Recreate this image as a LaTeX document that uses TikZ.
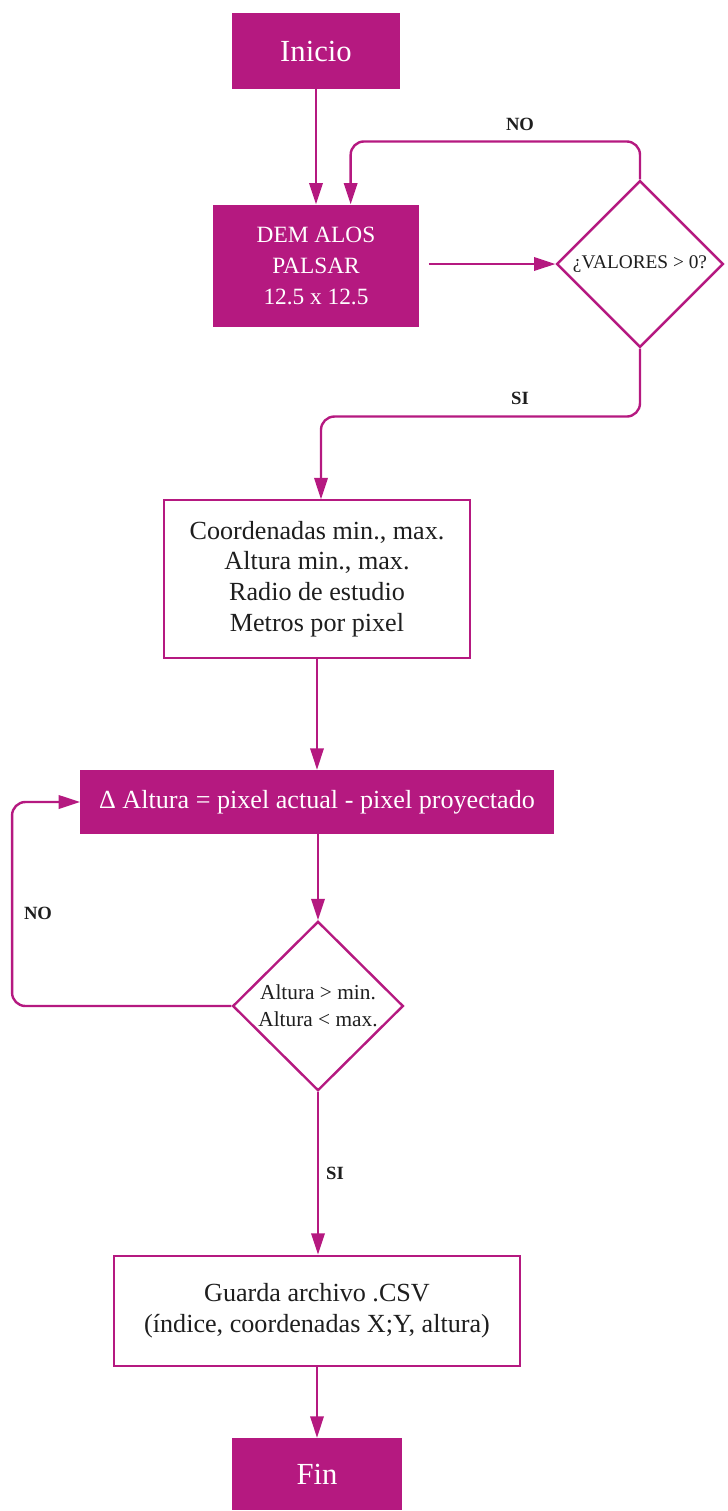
\documentclass[tikz,border=0pt]{standalone}
\usepackage{fontspec}
\setmainfont{Liberation Serif}
\usepackage{tikz}
\usetikzlibrary{shapes.geometric, arrows.meta, positioning}
\definecolor{Mag}{RGB}{181,25,128}
\definecolor{Txt}{RGB}{30,30,30}

\begin{document}
\begin{tikzpicture}[x=0.75pt, y=-0.75pt,
    lleno/.style = {rectangle, fill=Mag, text=white, inner sep=0pt, align=center,
                    font=\fontsize{19.6}{23}\selectfont},
    vacio/.style = {rectangle, draw=Mag, line width=1.6pt, fill=white, text=Txt,
                    inner sep=0pt, align=center, font=\fontsize{19.6}{23}\selectfont},
    rombo/.style = {diamond, draw=Mag, line width=1.8pt, fill=white, text=Txt,
                    inner sep=0pt, align=center, aspect=1},
    flecha/.style = {draw=Mag, line width=1.8pt, rounded corners=10pt,
                     -{Triangle[length=16pt, width=10pt]}},
    etiq/.style = {text=Txt, font=\fontsize{14}{16}\bfseries\selectfont}]
    \useasboundingbox (0,0) rectangle (728,1511);

    % nodos
    \node[lleno, minimum width=126pt, minimum height=57pt,
          font=\fontsize{23}{27}\selectfont] (ini) at (316,51) {Inicio};
    \node[lleno, minimum width=155pt, minimum height=92pt,
          font=\fontsize{17.5}{23}\selectfont] (dem) at (316,266)
          {DEM ALOS\\PALSAR\\12.5 x 12.5};
    \node[rombo, minimum width=125pt, minimum height=125pt,
          font=\fontsize{14.5}{17}\selectfont] (val) at (640,264) {¿VALORES > 0?};
    \node[vacio, minimum width=229pt, minimum height=118pt] (coord) at (317,579)
          {Coordenadas min., max.\\Altura min., max.\\Radio de estudio\\Metros por pixel};
    \node[lleno, minimum width=355pt, minimum height=48pt] (alt) at (317,802)
          {Δ Altura = pixel actual - pixel proyectado};
    \node[rombo, minimum width=128pt, minimum height=127pt,
          font=\fontsize{16}{20}\selectfont] (cond) at (318,1006)
          {Altura > min.\\Altura < max.};
    \node[vacio, minimum width=304pt, minimum height=83pt] (csv) at (317,1311)
          {Guarda archivo .CSV\\(índice, coordenadas X;Y, altura)};
    \node[lleno, minimum width=127pt, minimum height=54pt,
          font=\fontsize{23}{27}\selectfont] (fin) at (317,1474) {Fin};

    % etiquetas
    \node[etiq] (no1) at (520,124) {NO};
    \node[etiq] (si1) at (520,398) {SI};
    \node[etiq] (no2) at (38,913) {NO};
    \node[etiq] (si2) at (335,1173) {SI};

    % conectores
    \draw[flecha] (ini.south) -- (ini.south |- dem.north);
    \draw[flecha] (val.north) -- ++(0,-38) -| ([xshift=26pt]dem.north);
    \draw[flecha] ([xshift=7pt]dem.east |- val.west) -- (val.west);
    \draw[flecha] (val.south) -- ++(0,68) -| ([xshift=3pt]coord.north);
    \draw[flecha] (coord.south) -- (coord.south |- alt.north);
    \draw[flecha] (alt.south -| cond.north) -- (cond.north);
    \draw[flecha] (cond.west) -| ([xshift=-51pt]alt.west) -- (alt.west);
    \draw[flecha] (cond.south) -- (cond.south |- csv.north);
    \draw[flecha] (csv.south -| fin.north) -- (fin.north);
\end{tikzpicture}
\end{document}
